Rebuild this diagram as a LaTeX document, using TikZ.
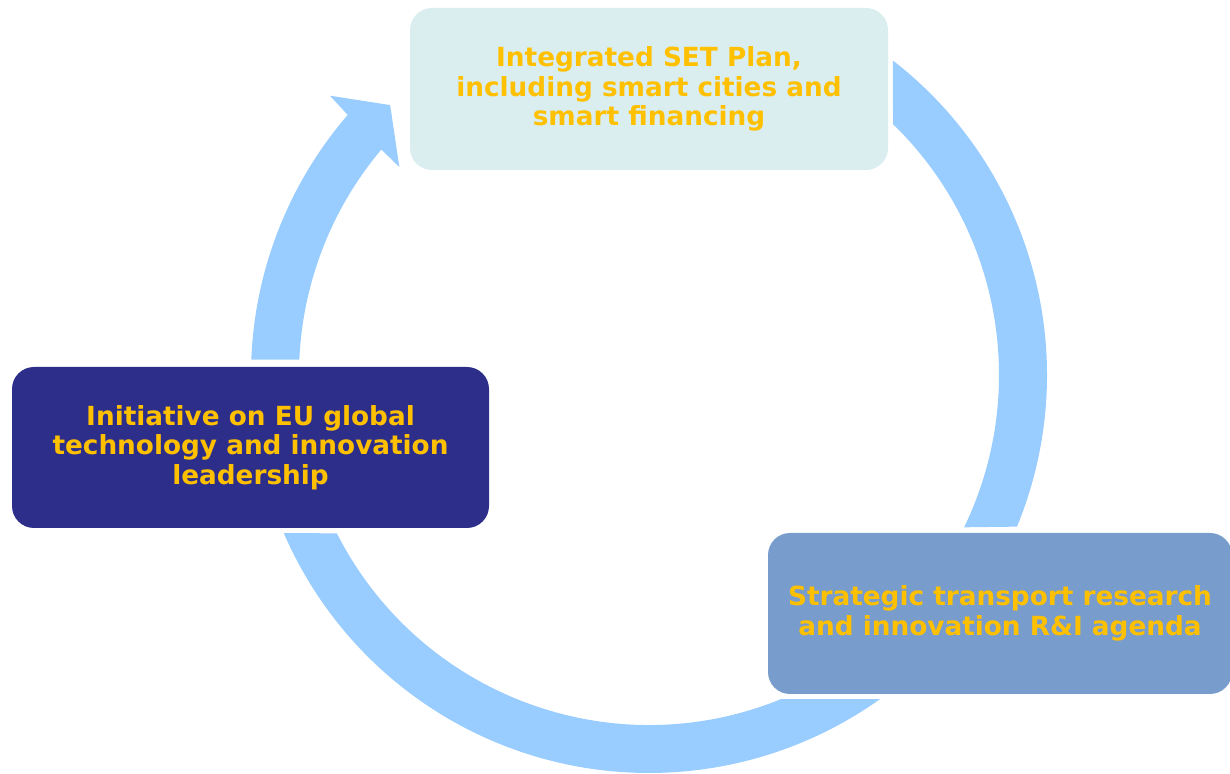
\documentclass[tikz,border=0pt]{standalone}
\usepackage{fontspec}
\setmainfont{DejaVu Sans}
\usepackage{tikz}
\usetikzlibrary{calc}
\definecolor{ringblue}{RGB}{153,204,255}
\definecolor{paleteal}{RGB}{218,237,239}
\definecolor{navy}{RGB}{45,46,138}
\definecolor{steel}{RGB}{120,156,203}
\definecolor{gold}{RGB}{255,192,0}
\tikzset{
  stage/.style={rounded corners=22pt, inner sep=0pt, align=center,
    text=gold, font=\fontsize{26.3}{29.5}\selectfont\bfseries}
}

\begin{document}
\begin{tikzpicture}[x=1pt,y=1pt]
      \useasboundingbox (0,0) rectangle (1230,773);
      \coordinate (c) at (649,398);
      % ring pieces
      \fill[ringblue] ($(c)+(52.2:398)$) arc[start angle=52.2, end angle=-22.4, radius=398]
        -- ($(c)+(-25.8:350)$) arc[start angle=-25.8, end angle=45.8, radius=350] -- cycle;
      \fill[ringblue] ($(c)+(-54.5:398)$) arc[start angle=-54.5, end angle=-156.6, radius=398]
        -- ($(c)+(-153.1:350)$) arc[start angle=-153.1, end angle=-67.8, radius=350] -- cycle;
      \fill[ringblue] ($(c)+(177.8:398)$) arc[start angle=177.8, end angle=139.2, radius=398]
        -- ($(c)+(138.8:424)$) -- ($(c)+(133.8:374)$) -- ($(c)+(140.2:325)$)
        -- ($(c)+(139.9:350)$) arc[start angle=139.9, end angle=177.5, radius=350] -- cycle;
      % boxes
      \node[stage, fill=paleteal, minimum width=478, minimum height=162] (b1) at (649,684)
        {Integrated SET Plan,\\including smart cities and\\smart financing};
      \node[stage, fill=navy, minimum width=477, minimum height=161] (b2) at (250.5,325.5)
        {Initiative on EU global\\technology and innovation\\leadership};
      \node[stage, fill=steel, minimum width=464, minimum height=161] (b3) at (1000,159.5)
        {Strategic transport research\\and innovation R\&I agenda};
    \end{tikzpicture}
\end{document}
